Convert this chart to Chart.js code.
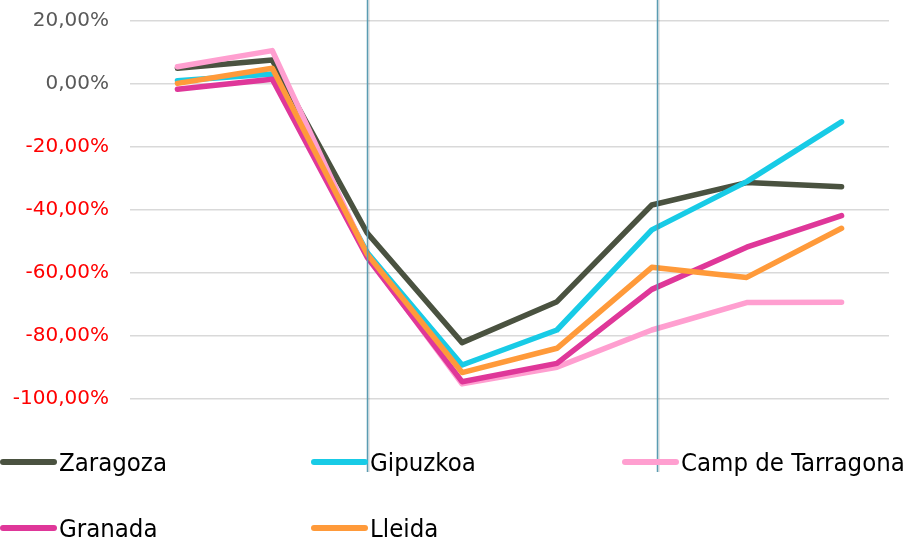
<!DOCTYPE html>
<html>
<head>
<meta charset="utf-8">
<script src="https://cdn.jsdelivr.net/npm/chart.js@4/dist/chart.umd.min.js"></script>
<style>
    html, body { margin: 0; padding: 0; background: #fff; }
    #wrap { position: relative; width: 914px; height: 539px; }
    #legend { position: absolute; left: 0; top: 0; width: 914px; height: 539px; pointer-events: none; }
    .item { position: absolute; display: flex; align-items: center; height: 34px;
            font-family: "Liberation Sans Narrow", "DejaVu Sans Condensed", sans-serif;
            font-size: 25.5px; color: #000; white-space: nowrap; }
    .swatch { width: 57px; height: 6px; border-radius: 3px; margin-right: 2px; }
</style>
</head>
<body>
<div id="wrap">
    <canvas id="chart" width="914" height="539"></canvas>
    <div id="legend"></div>
</div>
<script>
// datos
const periods = ['P1', 'P2', 'P3', 'P4', 'P5', 'P6', 'P7', 'P8'];
const zaragoza = [5.0, 7.6, -47.3, -82.1, -69.1, -38.4, -31.3, -32.6];
const gipuzkoa = [1.0, 3.2, -53.5, -89.2, -78.1, -46.3, -31.0, -12.0];
const campTarragona = [5.5, 10.6, -54.5, -95.2, -89.9, -78.1, -69.4, -69.3];
const granada = [-1.7, 1.5, -55.0, -94.5, -88.7, -65.2, -51.8, -41.8];
const lleida = [0.2, 5.0, -54.0, -91.6, -83.9, -58.2, -61.4, -45.8];

const seriesNames = ['Zaragoza', 'Gipuzkoa', 'Camp de Tarragona', 'Granada', 'Lleida'];
const seriesData = [zaragoza, gipuzkoa, campTarragona, granada, lleida];
const seriesColors = ['#4a5240', '#18cbe6', '#ff9fd0', '#df3799', '#ff9a3a'];

const yTicks = [-100, -80, -60, -40, -20, 0, 20];
// lineas verticales (posicion en el eje de categorias)
const markers = [2, 5.05];

const markerLines = {
    id: 'markerLines',
    afterDatasetsDraw(chart) {
        const ctx = chart.ctx;
        const x = chart.scales.x;
        const bottom = chart.chartArea.bottom + 73;
        markers.forEach(m => {
            const px = Math.round(x.getPixelForValue(m)) + 0.5;
            ctx.save();
            ctx.strokeStyle = 'rgba(0,0,0,0.12)';
            ctx.lineWidth = 1.5;
            ctx.beginPath();
            ctx.moveTo(px + 1.5, 0);
            ctx.lineTo(px + 1.5, bottom);
            ctx.stroke();
            ctx.strokeStyle = '#5a9cb2';
            ctx.lineWidth = 1.5;
            ctx.beginPath();
            ctx.moveTo(px, 0);
            ctx.lineTo(px, bottom);
            ctx.stroke();
            ctx.restore();
        });
    }
};

const chart = new Chart(document.getElementById('chart'), {
    type: 'line',
    data: {
        labels: periods,
        datasets: seriesNames.map((name, i) => ({
            label: name,
            data: seriesData[i],
            borderColor: seriesColors[i],
            backgroundColor: seriesColors[i],
            borderWidth: 5.5,
            borderCapStyle: 'round',
            borderJoinStyle: 'round',
            pointRadius: 0,
            tension: 0,
            order: seriesNames.length - 1 - i
        }))
    },
    options: {
        responsive: false,
        animation: false,
        layout: { autoPadding: false, padding: { top: 21, right: 25, bottom: 140, left: 0 } },
        plugins: {
            legend: { display: false },
            tooltip: { enabled: false }
        },
        scales: {
            x: {
                type: 'category',
                offset: true,
                display: false
            },
            y: {
                min: -100,
                max: 20,
                afterBuildTicks: (scale) => {
                    scale.ticks = yTicks.map(v => ({ value: v }));
                },
                afterFit: (scale) => {
                    scale.width = 130;
                    scale.paddingTop = 0;
                    scale.paddingBottom = 0;
                },
                border: { display: false },
                grid: { color: '#d9d9d9', lineWidth: 1.5, drawTicks: false },
                ticks: {
                    padding: 21,
                    font: { family: 'DejaVu Sans', size: 20 },
                    color: (c) => c.tick.value < 0 ? '#ff0000' : '#595959',
                    callback: (v) => v.toFixed(2).replace('.', ',') + '%'
                }
            }
        }
    },
    plugins: [markerLines]
});

// leyenda
const legendEl = document.getElementById('legend');
const legendPos = [[0, 445], [311, 445], [622, 445], [0, 511], [311, 511]];
chart.data.datasets.forEach((ds, i) => {
    const item = document.createElement('div');
    item.className = 'item';
    item.style.left = legendPos[i][0] + 'px';
    item.style.top = legendPos[i][1] + 'px';
    const sw = document.createElement('span');
    sw.className = 'swatch';
    sw.style.background = ds.borderColor;
    const txt = document.createElement('span');
    txt.textContent = ds.label;
    item.appendChild(sw);
    item.appendChild(txt);
    legendEl.appendChild(item);
});
</script>
</body>
</html>
